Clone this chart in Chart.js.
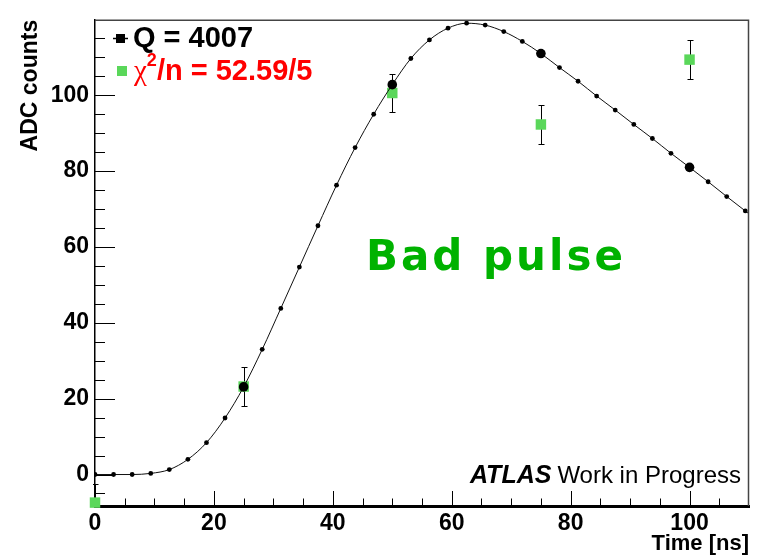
<!DOCTYPE html>
<html>
<head>
<meta charset="utf-8">
<script src="https://cdn.jsdelivr.net/npm/chart.js@4.4.0/dist/chart.umd.min.js"></script>
<style>
  html, body { margin: 0; padding: 0; background: #fff; }
</style>
</head>
<body>
<canvas id="pulseChart" width="763" height="557"></canvas>
<script>
// fitted pulse shape, one point every 3.125 ns
const fitTime = [0, 3.125, 6.25, 9.375, 12.5, 15.625, 18.75, 21.875, 25, 28.125, 31.25, 34.375,
  37.5, 40.625, 43.75, 46.875, 50, 53.125, 56.25, 59.375, 62.5, 65.625, 68.75, 71.875, 75,
  78.125, 81.25, 84.375, 87.5, 90.625, 93.75, 96.875, 100, 103.125, 106.25, 109.375, 112.5];
const fitAdc = [0, 0, 0, 0.3, 1.3, 4.0, 8.4, 14.9, 23.1, 33.0, 43.8, 54.7,
  65.6, 76.3, 86.2, 95.0, 102.8, 109.7, 114.6, 117.7, 119.0, 118.5, 116.8, 114.2, 111.0,
  107.3, 103.7, 99.8, 96.1, 92.3, 88.6, 84.7, 81.0, 77.2, 73.3, 69.5, 65.7];

// fit value at the sample times
const fitSampleTime = [25, 50, 75, 100];
const fitSampleAdc = [23.1, 102.8, 111.0, 81.0];

// measured samples
const sampleTime = [0, 25, 50, 75, 100];
const sampleAdc = [-7.4, 23.2, 100.6, 92.3, 109.4];
const sampleErr = [5.0, 5.2, 5.1, 5.1, 5.1];

const xTicks = [0, 20, 40, 60, 80, 100];
const yTicks = [0, 20, 40, 60, 80, 100];

const tickFont = { family: "'Liberation Sans Narrow', 'Liberation Sans', Arial, sans-serif", size: 23, weight: 'bold' };

const rootFrame = {
  id: 'rootFrame',
  beforeDatasetsDraw(chart) {
    const { ctx, chartArea: a, scales: { x, y } } = chart;
    ctx.save();
    ctx.beginPath();
    ctx.rect(a.left - 2, a.top, a.right - a.left + 2, a.bottom - a.top);
    ctx.clip();
    ctx.strokeStyle = '#000';
    ctx.lineWidth = 1;
    sampleTime.forEach((t, i) => {
      const px = Math.round(x.getPixelForValue(t)) + 0.5;
      const top = Math.round(y.getPixelForValue(sampleAdc[i] + sampleErr[i])) + 0.5;
      const bot = Math.round(y.getPixelForValue(sampleAdc[i] - sampleErr[i])) + 0.5;
      ctx.beginPath();
      ctx.moveTo(px, top); ctx.lineTo(px, bot);
      ctx.moveTo(px - 3, top); ctx.lineTo(px + 3, top);
      ctx.moveTo(px - 3, bot); ctx.lineTo(px + 3, bot);
      ctx.stroke();
    });
    ctx.restore();
  },
  afterDraw(chart) {
    const { ctx, chartArea: a, scales: { x, y } } = chart;
    ctx.save();

    // frame top and right
    ctx.strokeStyle = '#444';
    ctx.lineWidth = 1.5;
    ctx.beginPath();
    ctx.moveTo(a.left, a.top + 0.5);
    ctx.lineTo(a.right - 0.5, a.top + 0.5);
    ctx.lineTo(a.right - 0.5, a.bottom);
    ctx.stroke();

    // ticks drawn inside the frame, ROOT style
    ctx.strokeStyle = '#000';
    ctx.lineWidth = 1;
    ctx.beginPath();
    for (let v = -5; v <= 115; v += 5) {
      const py = Math.round(y.getPixelForValue(v)) + 0.5;
      const len = v % 20 === 0 ? 20 : 10;
      ctx.moveTo(a.left, py);
      ctx.lineTo(a.left + len, py);
    }
    for (let v = 5; v <= 105; v += 5) {
      const px = Math.round(x.getPixelForValue(v)) + 0.5;
      const len = v % 20 === 0 ? 15 : 7.5;
      ctx.moveTo(px, a.bottom);
      ctx.lineTo(px, a.bottom - len);
    }
    ctx.stroke();

    // legend
    ctx.lineWidth = 1.5;
    ctx.beginPath();
    ctx.moveTo(113, 38.5); ctx.lineTo(128, 38.5);
    ctx.stroke();
    ctx.fillStyle = '#000';
    ctx.fillRect(116, 34, 9, 9);
    ctx.font = "bold 29px 'Liberation Sans', Arial, sans-serif";
    ctx.textBaseline = 'alphabetic';
    ctx.fillText('Q = 4007', 133, 47);

    ctx.fillStyle = 'rgb(90,215,90)';
    ctx.fillRect(117, 66, 10, 10);
    ctx.fillStyle = '#ff0000';
    ctx.font = "29px 'Liberation Serif', serif";
    ctx.fillText('\u03c7', 134, 80);
    let cx = 134 + ctx.measureText('\u03c7').width;
    ctx.font = "bold 18px 'Liberation Sans', Arial, sans-serif";
    ctx.fillText('2', cx, 66);
    cx += ctx.measureText('2').width;
    ctx.font = "bold 29px 'Liberation Sans', Arial, sans-serif";
    ctx.fillText('/n = 52.59/5', cx, 80);

    // big label
    ctx.fillStyle = 'rgb(0,178,0)';
    ctx.font = "bold 42px 'DejaVu Sans', sans-serif";
    ctx.letterSpacing = '3px';
    ctx.fillText('Bad pulse', 366, 270);
    ctx.letterSpacing = '0px';

    // experiment tag
    ctx.fillStyle = '#000';
    ctx.textAlign = 'right';
    ctx.font = "24px 'Liberation Sans', Arial, sans-serif";
    ctx.fillText('Work in Progress', 741, 483);
    const wWork = ctx.measureText('Work in Progress').width;
    ctx.font = "italic bold 25px 'Liberation Sans', Arial, sans-serif";
    ctx.fillText('ATLAS', 741 - wWork - 6, 483);

    ctx.restore();
  }
};

const ctx = document.getElementById('pulseChart');
new Chart(ctx, {
  type: 'scatter',
  data: {
    datasets: [
      {
        label: 'samples',
        data: sampleTime.map((t, i) => ({ x: t, y: sampleAdc[i] })),
        pointStyle: 'rect',
        pointRadius: 7.4,
        pointBackgroundColor: 'rgb(90,215,90)',
        pointBorderWidth: 0,
        borderWidth: 0,
        clip: false,
        order: 3
      },
      {
        label: 'fit',
        type: 'line',
        data: fitTime.map((t, i) => ({ x: t, y: fitAdc[i] })),
        borderColor: '#111',
        borderWidth: 1,
        cubicInterpolationMode: 'monotone',
        pointRadius: 2.4,
        pointBackgroundColor: '#000',
        pointBorderWidth: 0,
        fill: false,
        order: 2
      },
      {
        label: 'fit at samples',
        data: fitSampleTime.map((t, i) => ({ x: t, y: fitSampleAdc[i] })),
        pointRadius: 4.8,
        pointBackgroundColor: '#000',
        pointBorderWidth: 0,
        order: 1
      }
    ]
  },
  options: {
    responsive: false,
    animation: false,
    layout: { padding: { top: 8, right: 14, left: 0, bottom: 0 } },
    plugins: { legend: { display: false }, tooltip: { enabled: false } },
    scales: {
      x: {
        type: 'linear',
        min: 0,
        max: 110,
        afterBuildTicks: axis => { axis.ticks = xTicks.map(v => ({ value: v })); },
        afterFit: axis => { axis.height = 51; },
        grid: { display: false, drawTicks: false },
        border: { display: true, color: '#000', width: 3 },
        ticks: { color: '#000', font: tickFont, padding: 4, maxRotation: 0 },
        title: {
          display: true, text: 'Time [ns]', align: 'end', color: '#000',
          font: { family: "'Liberation Sans', Arial, sans-serif", size: 22, weight: 'bold' },
          padding: { top: 0, bottom: 0 }
        }
      },
      y: {
        type: 'linear',
        min: -8.3,
        max: 119.9,
        afterBuildTicks: axis => { axis.ticks = yTicks.map(v => ({ value: v })); },
        afterFit: axis => { axis.width = 95; },
        grid: { display: false, drawTicks: false },
        border: { display: true, color: '#000', width: 1.5 },
        ticks: { color: '#000', font: tickFont, padding: 6 },
        title: {
          display: true, text: 'ADC counts', align: 'end', color: '#000',
          font: { family: "'Liberation Sans', Arial, sans-serif", size: 23, weight: 'bold' },
          padding: { top: 17, bottom: 0 }
        }
      }
    }
  },
  plugins: [rootFrame]
});
</script>
</body>
</html>
